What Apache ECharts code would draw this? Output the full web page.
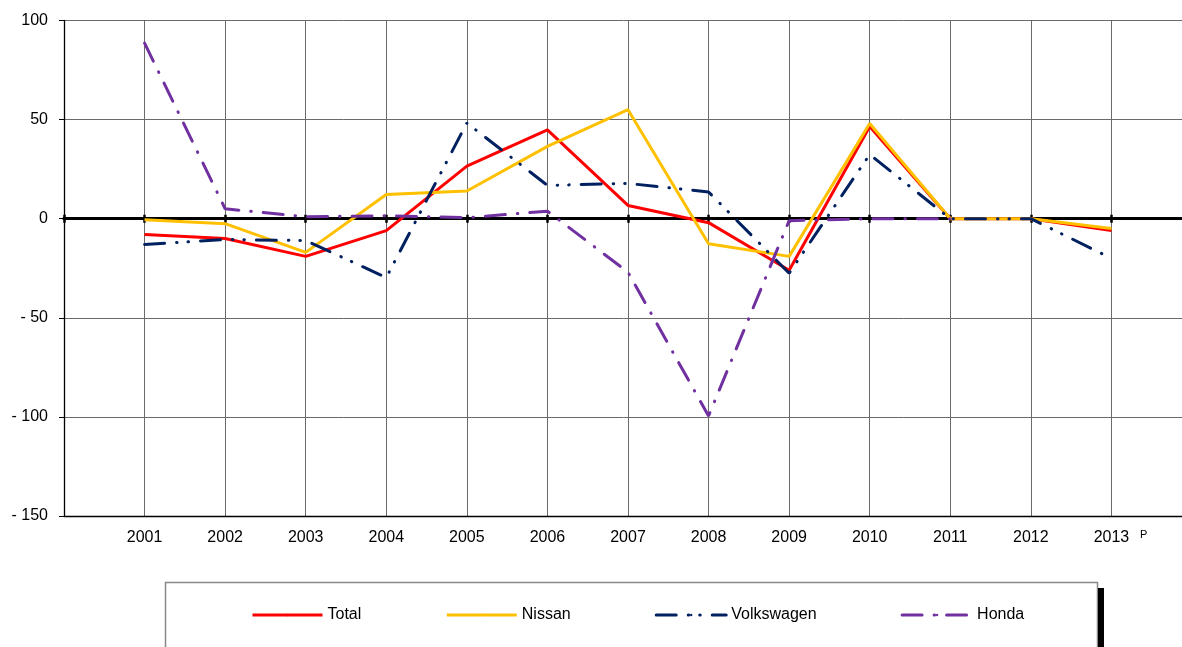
<!DOCTYPE html>
<html>
<head>
<meta charset="utf-8">
<script src="https://cdn.jsdelivr.net/npm/echarts@6/dist/echarts.min.js"></script>
<style>
  html, body { margin: 0; padding: 0; background: #fff; }
  #chart { width: 1182px; height: 647px; }
</style>
</head>
<body>
<div id="chart"></div>
<script>
var years = ["2001", "2002", "2003", "2004", "2005", "2006", "2007", "2008", "2009", "2010", "2011", "2012", "2013"];
var total = [-8, -10, -19, -6, 26.5, 44.8, 6.7, -2, -26, 46.5, 0, 0, -6];
var nissan = [-0.5, -2.5, -17, 12.2, 14, 36.5, 55, -12.6, -19, 48, 0, 0, -5];
var volkswagen = [-13, -10.5, -11, -29.7, 48.3, 16.8, 17.8, 13.5, -27.5, 32.4, 0, 0, -20];
var honda = [88.6, 5, 1, 1.5, 0.5, 3.8, -27, -99.5, -1, 0, 0, null, null];
var yTicks = { min: -150, max: 100, step: 50 };

// leading empty slot so 2001 sits one step right of the y axis
var cats = [""].concat(years, [""]);
function pad(arr) {
  return [null].concat(arr);
}

var chart = echarts.init(document.getElementById("chart"));
var font = "Liberation Sans, Arial, sans-serif";

var yBase = {
  type: "value",
  min: yTicks.min,
  max: yTicks.max,
  interval: yTicks.step,
};

chart.setOption({
  animation: false,
  grid: { left: 64, top: 20.5, bottom: 131, right: -10, outerBoundsMode: "none", containLabel: false },
  legend: {
    left: 251,
    top: 607,
    padding: 0,
    itemWidth: 70,
    itemHeight: 3,
    itemGap: 84,
    lineStyle: { width: 3 },
    textStyle: { fontSize: 16, color: "#000", fontFamily: font },
    data: ["Total", "Nissan", "Volkswagen", "Honda"],
  },
  xAxis: [
    {
      type: "category",
      data: cats,
      boundaryGap: false,
      axisLine: { onZero: false, lineStyle: { color: "#000", width: 1.3 } },
      axisTick: { show: false },
      axisLabel: { interval: 0, fontSize: 16, color: "#000", margin: 14, fontFamily: font },
      splitLine: { show: true, interval: 0, lineStyle: { color: "#6a6a6a", width: 1 } },
    },
    {
      // zero line, ticks pointing down
      type: "category",
      data: cats,
      boundaryGap: false,
      position: "bottom",
      axisLine: { onZero: true, onZeroAxisIndex: 0, lineStyle: { color: "#000", width: 3 } },
      axisTick: { show: true, interval: 0, length: 4, lineStyle: { color: "#000", width: 2.5 } },
      axisLabel: { show: false },
      splitLine: { show: false },
    },
    {
      // zero line again, ticks pointing up (uses the hidden copy of the y axis)
      type: "category",
      data: cats,
      boundaryGap: false,
      position: "top",
      axisLine: { onZero: true, onZeroAxisIndex: 1, lineStyle: { color: "#000", width: 3 } },
      axisTick: { show: true, interval: 0, length: 4, lineStyle: { color: "#000", width: 2.5 } },
      axisLabel: { show: false },
      splitLine: { show: false },
    },
  ],
  yAxis: [
    Object.assign({}, yBase, {
      axisLine: { show: true, lineStyle: { color: "#000", width: 1.3 } },
      axisTick: { show: true, length: 5, lineStyle: { color: "#000" } },
      axisLabel: {
        fontSize: 16,
        color: "#000",
        margin: 16,
        fontFamily: font,
        formatter: function (v) {
          return v < 0 ? "- " + Math.abs(v) : "" + v;
        },
      },
      splitLine: { show: true, lineStyle: { color: "#6a6a6a", width: 1 } },
    }),
    Object.assign({}, yBase, {
      show: false,
      splitLine: { show: false },
    }),
  ],
  series: [
    {
      name: "Total",
      type: "line",
      data: pad(total),
      symbol: "none",
      z: 3,
      lineStyle: { color: "#ff0000", width: 3 },
      itemStyle: { color: "#ff0000" },
    },
    {
      name: "Nissan",
      type: "line",
      data: pad(nissan),
      symbol: "none",
      z: 4,
      lineStyle: { color: "#ffc000", width: 3 },
      itemStyle: { color: "#ffc000" },
    },
    {
      name: "Volkswagen",
      type: "line",
      data: pad(volkswagen),
      symbol: "none",
      z: 5,
      lineStyle: { color: "#002060", width: 3, type: [20, 12, 0.5, 11, 0.5, 12], cap: "round" },
      itemStyle: { color: "#002060" },
    },
    {
      name: "Honda",
      type: "line",
      data: pad(honda),
      symbol: "none",
      z: 6,
      lineStyle: { color: "#7030a0", width: 3, type: [20, 12, 0.5, 12], cap: "round" },
      itemStyle: { color: "#7030a0" },
    },
  ],
  graphic: [
    {
      type: "rect",
      shape: { x: 165.5, y: 582.5, width: 932, height: 70 },
      style: { fill: "#fff", stroke: "#888", lineWidth: 1.5 },
      z: -1,
    },
    {
      type: "rect",
      shape: { x: 1098, y: 588, width: 6, height: 60 },
      style: { fill: "#000" },
      z: -1,
    },
    {
      type: "text",
      left: 1140,
      top: 529,
      style: { text: "P", fontSize: 11, fill: "#000", fontFamily: font },
    },
  ],
});
</script>
</body>
</html>
